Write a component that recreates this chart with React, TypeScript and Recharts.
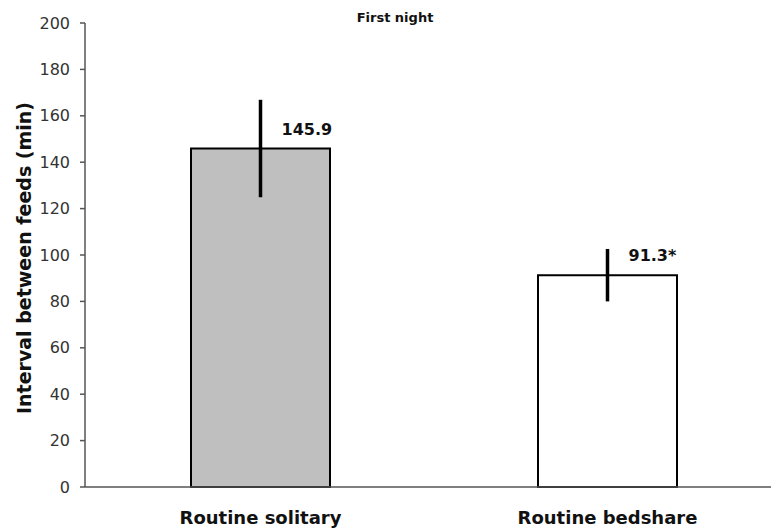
import { BarChart, Bar, XAxis, YAxis, ErrorBar, LabelList, Cell } from 'recharts';

const groups = ['Routine solitary', 'Routine bedshare'];
const means = [145.9, 91.3];
const errors = [21, 11.3];
const valueLabels = ['145.9', '91.3*'];
const fills = ['#bfbfbf', '#ffffff'];
const yTicks = [0, 20, 40, 60, 80, 100, 120, 140, 160, 180, 200];

const data = groups.map((g, i) => ({
    group: g,
    mean: means[i],
    err: errors[i],
    label: valueLabels[i],
}));

const font = '"DejaVu Sans", Verdana, sans-serif';

const ValueLabel = (props: any) => {
    const x = Number(props.x);
    const y = Number(props.y);
    const w = Number(props.width);
    return (
        <text x={x + w / 2 + 21} y={y - 14} fontFamily={font} fontWeight="bold" fontSize={16} fill="#111">
            {props.value}
        </text>
    );
};

const YTitle = () => (
    <text
        transform="translate(31, 258) rotate(-90)"
        textAnchor="middle"
        fontFamily={font}
        fontWeight="bold"
        fontSize={19}
        fill="#111"
    >
        Interval between feeds (min)
    </text>
);

export default function App() {
    return (
        <div style={{ position: 'absolute', left: 0, top: 0, width: 771, height: 531, overflow: 'hidden', background: '#fff' }}>
            <div style={{ position: 'absolute', left: 295, top: 10, width: 200, textAlign: 'center', fontFamily: font, fontWeight: 'bold', fontSize: 13, color: '#111' }}>
                First night
            </div>
            <BarChart
                width={792}
                height={531}
                data={data}
                margin={{ top: 23, right: 11, left: 0, bottom: 0 }}
            >
                <XAxis
                    dataKey="group"
                    height={44}
                    padding={{ left: 2, right: 0 }}
                    tickSize={0}
                    tickMargin={24}
                    axisLine={{ stroke: '#555', strokeWidth: 1.5 }}
                    tick={{ fill: '#111', fontSize: 18, fontWeight: 'bold', fontFamily: font }}
                />
                <YAxis
                    domain={[0, 200]}
                    ticks={yTicks}
                    width={85}
                    tickSize={5}
                    tickMargin={10}
                    axisLine={{ stroke: '#555', strokeWidth: 1.5 }}
                    tickLine={{ stroke: '#555', strokeWidth: 1.5 }}
                    tick={{ fill: '#333', fontSize: 16, fontFamily: font }}
                    label={<YTitle />}
                />
                <Bar dataKey="mean" barSize={139} stroke="#000" strokeWidth={2} isAnimationActive={false}>
                    {data.map((d, i) => (
                        <Cell key={d.group} fill={fills[i]} />
                    ))}
                    <ErrorBar dataKey="err" width={0} stroke="#000" strokeWidth={3.5} direction="y" isAnimationActive={false} />
                    <LabelList dataKey="label" content={<ValueLabel />} />
                </Bar>
            </BarChart>
        </div>
    );
}
